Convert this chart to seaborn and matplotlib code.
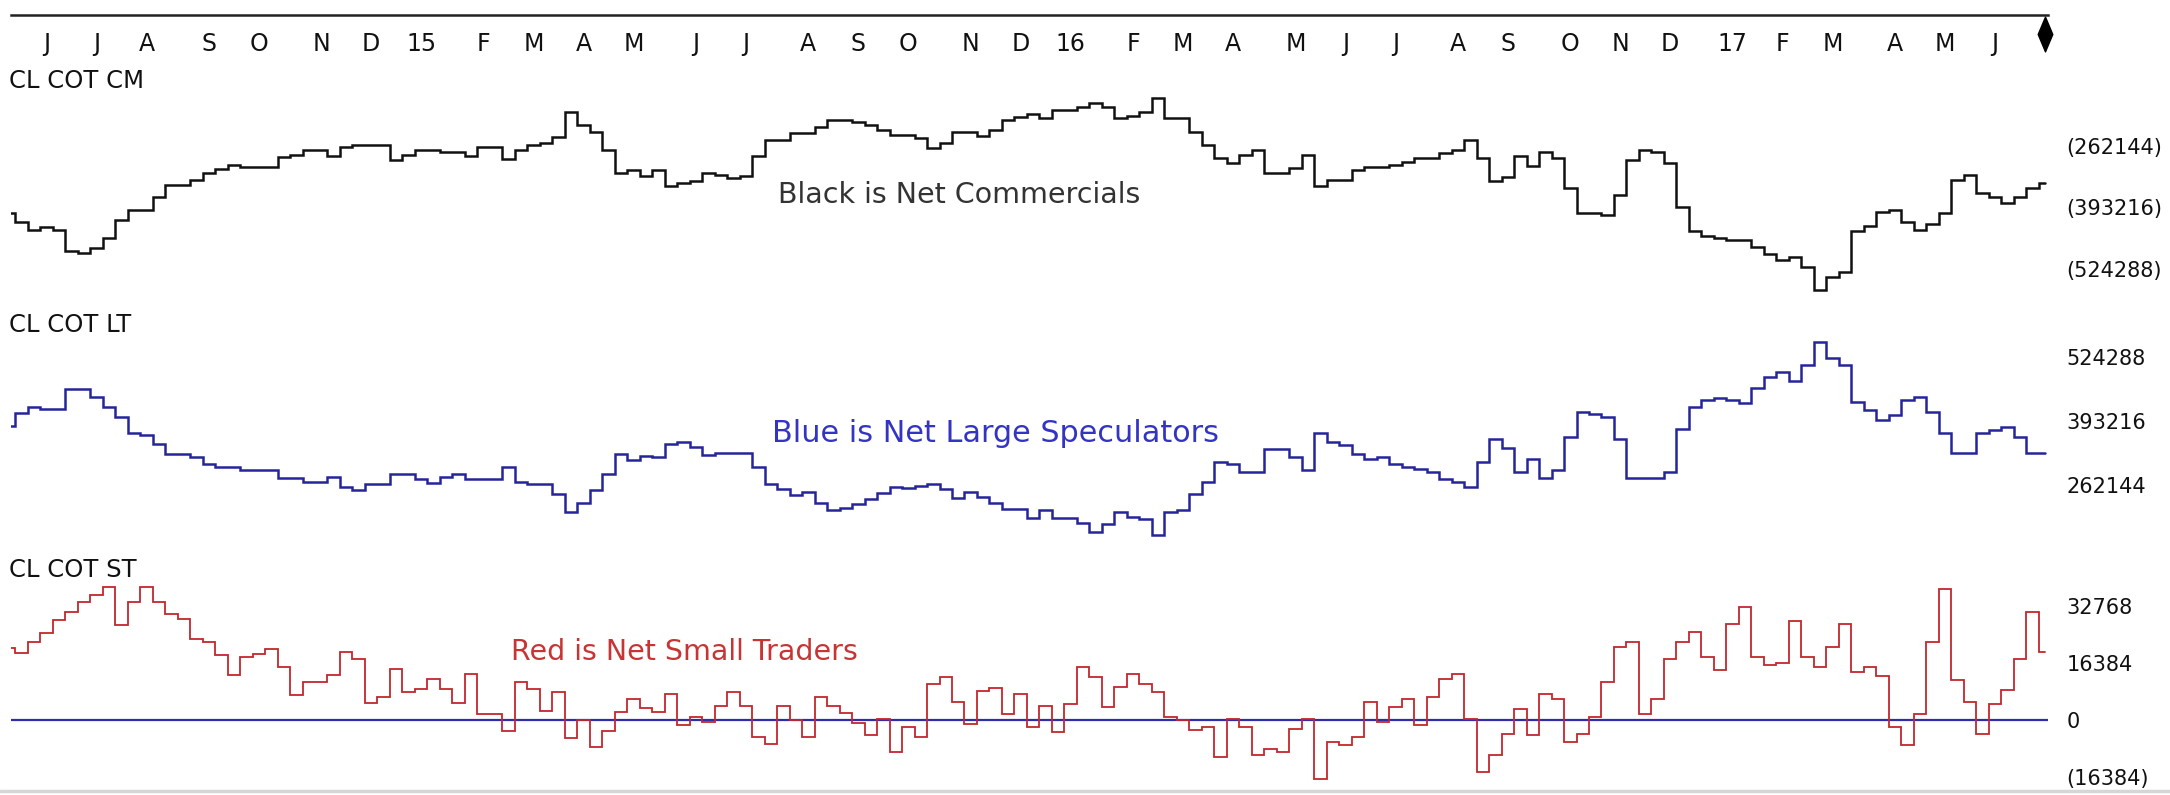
import numpy as np
import pandas as pd
import matplotlib
matplotlib.use("Agg")
import matplotlib.pyplot as plt
import seaborn as sns
from matplotlib.path import Path
from matplotlib.lines import Line2D

# ---------------- data (weekly COT report, thousands of contracts) ----------------
start_date = "2014-05-16"
n_weeks = 164

cm_k = [-404.3, -424.1, -441.1, -434.7, -441.1, -485.2, -489.5, -480.1, -457.5, -419.8,
        -398.5, -398.5, -370.2, -345.2, -345.2, -334.6, -319.0, -311.8, -302.6, -307.5,
        -307.5, -307.5, -286.2, -281.3, -270.6, -270.6, -282.8, -264.9, -260.6, -260.6,
        -260.6, -291.9, -281.3, -270.6, -270.6, -275.5, -275.5, -283.4, -264.9, -264.9,
        -289.8, -270.6, -260.0, -255.1, -243.6, -190.3, -217.3, -232.9, -270.6, -320.3,
        -313.3, -326.0, -313.3, -346.7, -341.6, -336.1, -319.0, -323.9, -329.7, -326.0,
        -282.8, -249.3, -249.3, -235.0, -235.0, -221.0, -206.7, -206.7, -210.3, -217.3,
        -228.0, -238.7, -238.7, -244.4, -265.7, -256.3, -232.9, -232.9, -240.8, -228.0,
        -206.7, -199.7, -194.5, -201.8, -185.4, -185.4, -179.6, -169.8, -179.6, -203.1,
        -198.2, -190.3, -159.2, -201.8, -201.8, -231.6, -260.0, -287.0, -297.7, -281.3,
        -270.6, -319.0, -319.0, -308.3, -281.3, -346.7, -334.6, -334.6, -313.3, -307.5,
        -307.5, -302.6, -296.8, -287.0, -287.0, -277.7, -270.6, -249.3, -287.0, -336.1,
        -328.8, -282.8, -304.7, -275.5, -287.0, -351.0, -404.3, -404.3, -409.2, -366.5,
        -291.9, -270.6, -275.5, -299.0, -392.7, -442.6, -453.3, -457.5, -462.4, -462.4,
        -478.0, -492.9, -505.1, -499.3, -520.6, -569.0, -541.9, -531.3, -442.6, -432.0,
        -403.4, -398.5, -424.7, -441.1, -429.0, -404.3, -334.6, -323.9, -361.6, -371.4,
        -384.2, -371.4, -351.0, -340.3]

lt_k = [383.6, 409.6, 421.9, 417.8, 417.8, 458.7, 458.7, 442.4, 421.9, 401.4,
        369.9, 365.1, 346.1, 325.6, 325.6, 320.7, 305.1, 300.2, 300.2, 293.5,
        293.5, 293.5, 277.7, 277.7, 268.3, 268.3, 279.7, 258.0, 252.5, 264.2,
        264.2, 284.7, 284.7, 274.4, 267.5, 279.7, 285.3, 274.4, 274.4, 274.4,
        300.2, 268.3, 264.2, 264.2, 244.3, 206.8, 226.5, 252.5, 284.7, 325.6,
        313.9, 322.1, 319.5, 346.7, 350.2, 341.2, 324.2, 328.9, 328.9, 328.9,
        300.2, 264.2, 253.9, 242.3, 247.8, 226.5, 211.5, 216.3, 223.2, 233.5,
        247.0, 259.3, 256.0, 261.3, 264.2, 253.9, 236.7, 247.8, 238.8, 226.5,
        213.0, 213.0, 194.5, 211.5, 195.8, 195.8, 184.3, 165.9, 182.9, 206.8,
        197.8, 192.5, 160.3, 206.8, 211.5, 243.7, 268.3, 309.2, 305.1, 288.8,
        288.8, 335.9, 335.9, 320.7, 293.5, 369.9, 350.2, 344.7, 325.6, 315.4,
        320.7, 305.8, 300.2, 295.5, 288.8, 274.4, 268.3, 258.0, 309.2, 356.3,
        339.1, 288.8, 315.4, 277.7, 293.5, 360.4, 411.6, 407.5, 401.4, 356.3,
        277.7, 277.7, 277.7, 288.8, 376.8, 421.9, 436.8, 441.5, 436.8, 431.3,
        462.0, 483.3, 493.6, 476.3, 508.5, 555.0, 523.5, 508.5, 433.3, 416.3,
        395.9, 406.1, 437.8, 442.4, 412.2, 369.9, 328.9, 328.9, 369.9, 376.0,
        380.9, 360.4, 328.9, 328.9]

st_k = [20.6, 19.3, 22.5, 25.1, 28.7, 31.1, 33.8, 35.9, 38.1, 27.3,
        34.0, 38.1, 34.0, 30.5, 28.9, 23.2, 22.3, 18.7, 12.9, 18.0,
        18.9, 20.4, 15.3, 7.2, 11.0, 11.0, 12.9, 19.6, 17.5, 5.0,
        6.7, 14.7, 8.0, 8.9, 11.8, 8.9, 5.0, 13.2, 1.7, 1.7,
        -3.1, 11.0, 8.9, 2.7, 8.1, -5.3, 0.0, -7.8, -3.1, 2.4,
        5.9, 3.4, 2.2, 7.5, -1.4, 0.9, -0.5, 4.1, 8.0, 4.1,
        -4.8, -6.9, 4.0, 0.0, -4.8, 6.7, 4.1, 1.9, -0.9, -4.3,
        0.3, -9.3, -1.9, -5.0, 10.3, 12.4, 5.1, -1.1, 8.4, 9.1,
        1.7, 7.4, -2.1, 4.1, -3.5, 4.6, 15.3, 12.4, 3.8, 9.6,
        13.2, 10.3, 8.1, 0.9, 0.0, -2.9, -2.1, -10.5, 0.2, -2.1,
        -10.1, -8.4, -9.3, -2.7, 0.2, -17.0, -6.2, -7.2, -5.0, 5.3,
        -0.5, 3.7, 6.0, -1.4, 6.7, 11.7, 13.2, 0.2, -14.9, -10.1,
        -4.0, 3.1, -4.3, 7.5, 5.9, -6.4, -4.1, 0.8, 11.0, 21.1,
        22.5, 1.7, 5.9, 17.5, 22.3, 25.4, 18.2, 14.4, 27.5, 32.6,
        18.2, 15.8, 16.5, 28.5, 18.2, 15.1, 21.1, 27.5, 13.7, 15.3,
        12.6, -1.9, -7.2, 1.7, 22.3, 37.6, 11.5, 5.3, -4.1, 4.5,
        8.6, 17.5, 31.1, 19.5]

cm_ticks = [-262144, -393216, -524288]
cm_ticklabels = ["(262144)", "(393216)", "(524288)"]
lt_ticks = [524288, 393216, 262144]
lt_ticklabels = ["524288", "393216", "262144"]
st_ticks = [32768, 16384, 0, -16384]
st_ticklabels = ["32768", "16384", "0", "(16384)"]

panel_titles = ["CL COT CM", "CL COT LT", "CL COT ST"]
notes = ["Black is Net Commercials", "Blue is Net Large Speculators", "Red is Net Small Traders"]

# ---------------- build frame ----------------
dates = pd.date_range(start_date, periods=n_weeks, freq="W-FRI")
df = pd.DataFrame({
    "i": np.arange(n_weeks),
    "date": dates,
    "cm": np.array(cm_k) * 1000,
    "lt": np.array(lt_k) * 1000,
    "st": np.array(st_k) * 1000,
})

# month ticks: first report of each month; January shows two-digit year
months = df["date"].dt.month
new_month = months.ne(months.shift()) & (df["i"] > 0)
tick_pos = df.loc[new_month, "i"].tolist()
tick_lab = [d.strftime("%y") if d.month == 1 else d.strftime("%b")[0]
            for d in df.loc[new_month, "date"]]

# ---------------- style ----------------
sns.set_style("white")
plt.rcParams["font.family"] = ["DejaVu Sans"]
plt.rcParams["lines.solid_joinstyle"] = "miter"

W, H = 2170, 795
fig = plt.figure(figsize=(W / 100, H / 100), dpi=100)
fig.patch.set_facecolor("white")

def fx(px):
    return px / W

def fy(py):
    return 1 - py / H

x_lo, x_hi = 0.12, 163.25
ax_l, ax_r = 10.5, 2048

def make_ax(top, bottom):
    ax = fig.add_axes([fx(ax_l), fy(bottom), fx(ax_r - ax_l), (bottom - top) / H])
    for s in ax.spines.values():
        s.set_visible(False)
    ax.set_facecolor("none")
    return ax

ax1 = make_ax(95, 300)
ax2 = make_ax(330, 540)
ax3 = make_ax(555, 792)

sns.lineplot(data=df, x="i", y="cm", ax=ax1, color="#111111", lw=1.8,
             drawstyle="steps-mid", estimator=None)
sns.lineplot(data=df, x="i", y="lt", ax=ax2, color="#25259a", lw=1.8,
             drawstyle="steps-mid", estimator=None)
ax3.axhline(0, color="#2e2eaa", lw=1.6, zorder=1)
sns.lineplot(data=df, x="i", y="st", ax=ax3, color="#c3262c", lw=1.3,
             drawstyle="steps-mid", estimator=None, zorder=3)

ax1.set_ylim(-590364, -153448)
ax2.set_ylim(150118, 580198)
ax3.set_ylim(-20693, 47421)

for ax, tks, labs in [(ax1, cm_ticks, cm_ticklabels),
                      (ax2, lt_ticks, lt_ticklabels),
                      (ax3, st_ticks, st_ticklabels)]:
    ax.set_xlim(x_lo, x_hi)
    ax.set_xticks([])
    ax.set_xlabel("")
    ax.set_ylabel("")
    ax.yaxis.set_ticks_position("right")
    ax.set_yticks(tks)
    ax.set_yticklabels(labs)
    ax.tick_params(axis="y", length=0, pad=13.5, labelsize=15, labelcolor="#111111")

# ---------------- top date axis ----------------
axt = fig.add_axes([fx(ax_l), fy(15), fx(ax_r - ax_l), 14 / H])
axt.set_xlim(x_lo, x_hi)
axt.set_ylim(0, 1)
for k, s in axt.spines.items():
    s.set_visible(k == "bottom")
axt.spines["bottom"].set_linewidth(1.8)
axt.spines["bottom"].set_color("#222222")
axt.set_facecolor("none")
axt.set_yticks([])
axt.set_xticks(tick_pos)
axt.set_xticklabels(tick_lab)
axt.tick_params(axis="x", direction="out", length=7.5, width=1.3, color="#222222",
                pad=5, labelsize=17, labelcolor="#111111")

diamond = Path([(0, 1), (0.42, 0), (0, -1), (-0.42, 0), (0, 1)],
               [Path.MOVETO, Path.LINETO, Path.LINETO, Path.LINETO, Path.CLOSEPOLY])
last_i = df["i"].iloc[-1]
axt.plot([last_i], [-1.35], marker=diamond, markersize=25, color="black",
         transform=axt.get_xaxis_transform(), clip_on=False, lw=0)

# ---------------- texts ----------------
for title, py in zip(panel_titles, [81, 325, 570]):
    fig.text(fx(9), fy(py), title, ha="left", va="center", fontsize=17.5, color="#111111")

fig.text(fx(959), fy(195), notes[0], ha="center", va="center", fontsize=20.5, color="#333333")
fig.text(fx(995), fy(433), notes[1], ha="center", va="center", fontsize=21.8, color="#3434c4")
fig.text(fx(684), fy(652), notes[2], ha="center", va="center", fontsize=20.5, color="#c83434")

# bottom border
fig.add_artist(Line2D([0, 1], [fy(791), fy(791)], transform=fig.transFigure,
                      color="#d6d6d6", lw=2.5))

fig.savefig("out.png", dpi=100, facecolor="white")
